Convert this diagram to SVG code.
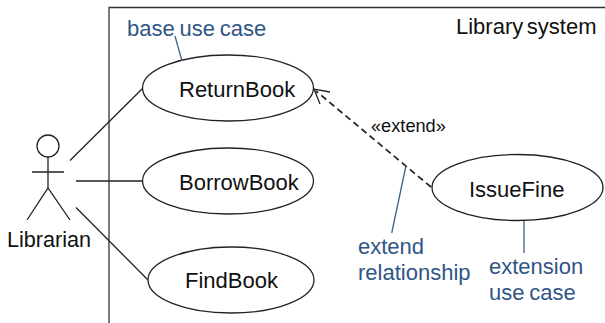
<svg xmlns="http://www.w3.org/2000/svg" width="605" height="323" viewBox="0 0 605 323">
<style>
text{font-family:"Liberation Sans",Arial,sans-serif;font-size:22px;fill:#111;word-spacing:-2.500px}
.n{fill:#fff;stroke:#222;stroke-width:1.300}
.c{fill:none;stroke:#222;stroke-width:1.300}
.d{fill:none;stroke:#222;stroke-width:1.700;stroke-dasharray:6.500 4}
.note{fill:#2f5587}
.wide{word-spacing:-1.300px}
.nl{fill:none;stroke:#3d5f8f;stroke-width:1.300}
</style>
<rect width="605" height="323" fill="#fff"/>
<g id="system"><path d="M109 323V7.500H605" fill="none" stroke="#333" stroke-width="1.300"/><text x="456" y="34">Library system</text></g>
<g id="connectors">
<path class="c" d="M70 160.500L142 89"/>
<path class="c" d="M76 181H142"/>
<path class="c" d="M76 207.500L148 280"/>
<path class="d" d="M431 187L316 91"/>
<path class="c" d="M330 92L314 89L320 104"/>
</g>
<g id="ReturnBook"><ellipse class="n" cx="228" cy="88" rx="85.500" ry="33"/><text x="179" y="97">ReturnBook</text></g>
<g id="BorrowBook"><ellipse class="n" cx="228" cy="181" rx="85.500" ry="33"/><text x="179" y="190">BorrowBook</text></g>
<g id="FindBook"><ellipse class="n" cx="231" cy="280" rx="83" ry="33"/><text x="185" y="288">FindBook</text></g>
<g id="IssueFine"><ellipse class="n" cx="517.500" cy="187.500" rx="85.500" ry="33"/><text x="469" y="197">IssueFine</text></g>
<g id="Librarian"><circle class="c" cx="48" cy="146" r="11"/><path class="c" d="M48 157V188M32 172H64M27 220L48 188L70 220"/><text x="7" y="247" style="font-size:21.600px">Librarian</text></g>
<g id="extend-label"><text x="371" y="132" style="font-size:18.200px">«extend»</text></g>
<g id="note-base"><path class="nl" d="M175 36L182 61"/><text class="note wide" x="127" y="36">base use case</text></g>
<g id="note-extend"><path class="nl" d="M405.700 167L391.700 233"/><text class="note" x="358" y="254">extend</text><text class="note" x="358" y="280">relationship</text></g>
<g id="note-extension"><path class="nl" d="M524 221V253"/><text class="note" x="489" y="274">extension</text><text class="note wide" x="489" y="300">use case</text></g>
</svg>
